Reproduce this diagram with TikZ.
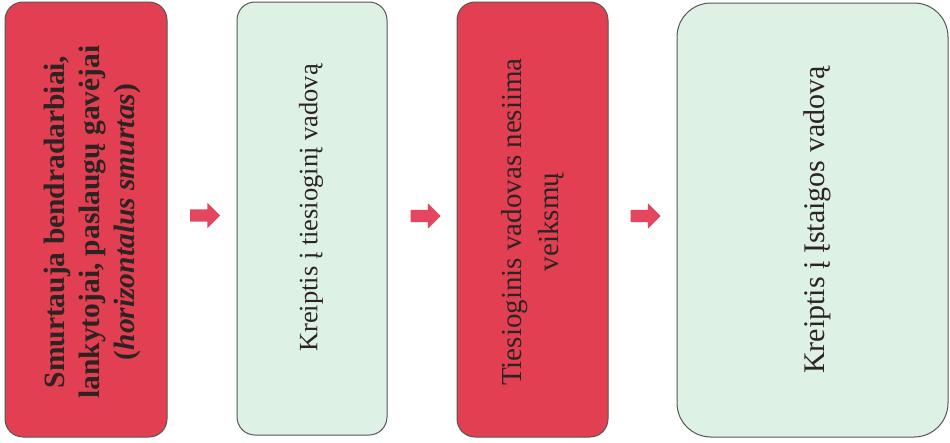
\documentclass[tikz,border=0pt]{standalone}
\usepackage{fontspec}
\setmainfont{Liberation Serif}
\usetikzlibrary{shapes.arrows}

\definecolor{alarmred}{RGB}{226,64,82}
\definecolor{mintgreen}{RGB}{221,241,229}
\definecolor{framegray}{RGB}{85,85,85}
\definecolor{ink}{RGB}{45,35,35}
\definecolor{arrowred}{RGB}{228,70,96}

\begin{document}
\begin{tikzpicture}[x=1pt,y=-1pt,
  stage/.style={draw=framegray,line width=1pt,rounded corners=18pt,inner sep=0pt},
  redstage/.style={stage,fill=alarmred},
  greenstage/.style={stage,fill=mintgreen},
  stagetext/.style={rotate=90,align=center,text=ink,inner sep=0pt},
  nextarrow/.style={single arrow,fill=arrowred,draw=none,inner sep=6pt,
    minimum height=30pt,minimum width=25pt,single arrow head extend=6.5pt}]
  \useasboundingbox (0,0) rectangle (950,442);

  \node [redstage,minimum width=162pt,minimum height=435pt] (victims) at (86,219.5) {};
  \node [greenstage,minimum width=150pt,minimum height=433pt] (direct) at (312,218.5) {};
  \node [redstage,minimum width=151pt,minimum height=435pt] (noaction) at (532.5,219.5) {};
  \node [greenstage,minimum width=271pt,minimum height=434pt,
    rounded corners=34pt] (head) at (812.5,220) {};

  \node [stagetext,font=\fontsize{29.5}{35}\selectfont\bfseries] (victims-text) at (92,222)
    {Smurtauja bendradarbiai,\\lankytojai, paslaugų gavėjai\\(\textit{horizontalus smurtas})};
  \node [stagetext,font=\fontsize{26.5}{32}\selectfont] (direct-text) at (311,208)
    {Kreiptis į tiesioginį vadovą};
  \node [stagetext,font=\fontsize{29}{37}\selectfont] (noaction-text) at (533,222)
    {Tiesioginis vadovas nesiima\\veiksmų};
  \node [stagetext,font=\fontsize{30}{36}\selectfont] (head-text) at (817,220)
    {Kreiptis į Įstaigos vadovą};

  \node [nextarrow] (a1) at (202,215.5) {};
  \node [nextarrow] (a2) at (422.5,216) {};
  \node [nextarrow] (a3) at (642.5,216) {};
\end{tikzpicture}
\end{document}
